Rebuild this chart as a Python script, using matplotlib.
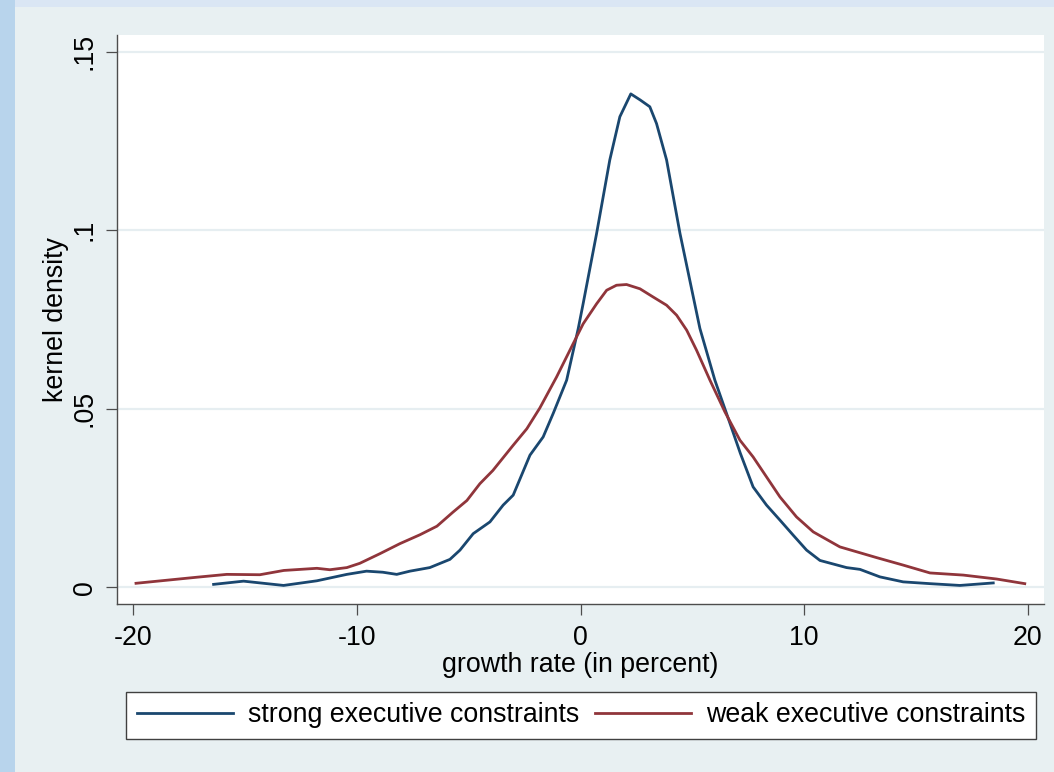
import matplotlib
matplotlib.use("Agg")
import matplotlib.pyplot as plt
from matplotlib.patches import Rectangle

plt.rcParams['font.family'] = ['Liberation Sans', 'DejaVu Sans']

# kernel density, strong executive constraints
strong_x = [-16.41, -15.07, -13.28, -11.79, -10.45, -9.57, -8.84, -8.22, -7.63, -6.74,
            -5.84, -5.39, -4.80, -4.05, -3.46, -3.01, -2.26, -1.67, -1.22, -0.62,
            -0.10, 0.12, 0.72, 1.31, 1.76, 2.25, 2.67, 3.10, 3.40, 3.85, 4.45,
            5.34, 6.01, 6.53, 7.15, 7.72, 8.32, 8.92, 9.51, 10.11, 10.71,
            11.90, 12.50, 13.39, 14.43, 15.63, 16.97, 18.46]
strong_y = [0.0008, 0.0017, 0.0005, 0.0018, 0.0036, 0.0045, 0.0042, 0.0036, 0.0045, 0.0055,
            0.0078, 0.0104, 0.0150, 0.0183, 0.0230, 0.0258, 0.0370, 0.0421, 0.0487, 0.0580,
            0.0725, 0.0795, 0.0991, 0.1197, 0.1318, 0.1382, 0.1365, 0.1346, 0.1299, 0.1197, 0.0991,
            0.0725, 0.0580, 0.0487, 0.0375, 0.0281, 0.0230, 0.0188, 0.0146, 0.0104, 0.0075,
            0.0055, 0.0050, 0.0029, 0.0015, 0.0010, 0.0005, 0.0012]

# kernel density, weak executive constraints
weak_x = [-19.88, -17.16, -15.82, -14.34, -13.27, -11.79, -11.21, -10.45, -9.87, -8.97,
          -8.08, -7.18, -6.42, -5.71, -5.08, -4.50, -3.92, -3.02, -2.40, -1.82,
          -1.07, -0.33, 0.12, 0.72, 1.17, 1.61, 2.06, 2.66, 3.25, 3.85,
          4.30, 4.75, 5.19, 5.79, 6.46, 7.13, 7.72, 8.32, 8.92, 9.66,
          10.41, 11.60, 13.24, 14.43, 15.63, 17.12, 18.61, 19.87]
weak_y = [0.0011, 0.0028, 0.0036, 0.0035, 0.0047, 0.0053, 0.0049, 0.0055, 0.0067, 0.0094,
          0.0122, 0.0147, 0.0171, 0.0210, 0.0243, 0.0290, 0.0327, 0.0397, 0.0444, 0.0502,
          0.0589, 0.0682, 0.0738, 0.0794, 0.0832, 0.0846, 0.0848, 0.0836, 0.0813, 0.0790,
          0.0762, 0.0720, 0.0664, 0.0580, 0.0491, 0.0412, 0.0365, 0.0309, 0.0253, 0.0197,
          0.0155, 0.0113, 0.0083, 0.0062, 0.0040, 0.0034, 0.0023, 0.0010]

x_ticks = [-20, -10, 0, 10, 20]
y_ticks = [0, 0.05, 0.1, 0.15]
y_ticklabels = ['0', '.05', '.1', '.15']

blue = '#1a476f'
red = '#90353b'
W, H = 1054, 772
fs = 19.3

fig = plt.figure(figsize=(W / 100, H / 100), dpi=100)
fig.patch.set_facecolor('#e8f0f2')
# window edge strips
fig.add_artist(Rectangle((0, 1 - 7 / H), 1, 7 / H, transform=fig.transFigure,
                         facecolor='#dae6f4', edgecolor='none', zorder=0))
fig.add_artist(Rectangle((0, 0), 15 / W, 1, transform=fig.transFigure,
                         facecolor='#b8d4ec', edgecolor='none', zorder=0))

ax = fig.add_axes([117 / W, 1 - 604 / H, (1044 - 117) / W, (604 - 35) / H])
ax.set_facecolor('white')

ax.plot(strong_x, strong_y, color=blue, lw=2.0, label='strong executive constraints', zorder=3)
ax.plot(weak_x, weak_y, color=red, lw=2.0, label='weak executive constraints', zorder=3)

ax.set_xlim(-20.73, 20.73)
ax.set_ylim(-0.0047, 0.1547)
ax.set_xticks(x_ticks)
ax.set_xticklabels([str(t) for t in x_ticks])
ax.set_yticks(y_ticks)
ax.set_yticklabels(y_ticklabels)
ax.grid(axis='y', color='#e6eef1', lw=1.6, zorder=1)
ax.set_axisbelow(True)

for s in ['top', 'right']:
    ax.spines[s].set_visible(False)
for s in ['left', 'bottom']:
    ax.spines[s].set_color('#4d4d4d')
    ax.spines[s].set_linewidth(1.0)

ax.tick_params(axis='both', direction='out', length=8, width=0.9, color='#4d4d4d',
               labelsize=fs)
ax.tick_params(axis='x', pad=7)
ax.tick_params(axis='y', labelrotation=90, pad=6)
for lab in ax.get_yticklabels():
    lab.set_va('center')

ax.set_xlabel('growth rate (in percent)', fontsize=fs, labelpad=1)
ax.set_ylabel('kernel density', fontsize=fs, labelpad=2)

leg = fig.legend(loc='lower left', bbox_to_anchor=(126 / W, 1 - 739 / H, 910 / W, 50 / H),
                 mode='expand', ncol=2, fontsize=fs, handlelength=3.6, handletextpad=0.55,
                 fancybox=False, frameon=True, framealpha=1, borderaxespad=0, borderpad=0.4)
leg.get_frame().set_edgecolor('#404040')
leg.get_frame().set_linewidth(1.0)
leg.get_frame().set_facecolor('white')

fig.savefig('out.png', dpi=100, facecolor=fig.get_facecolor())
